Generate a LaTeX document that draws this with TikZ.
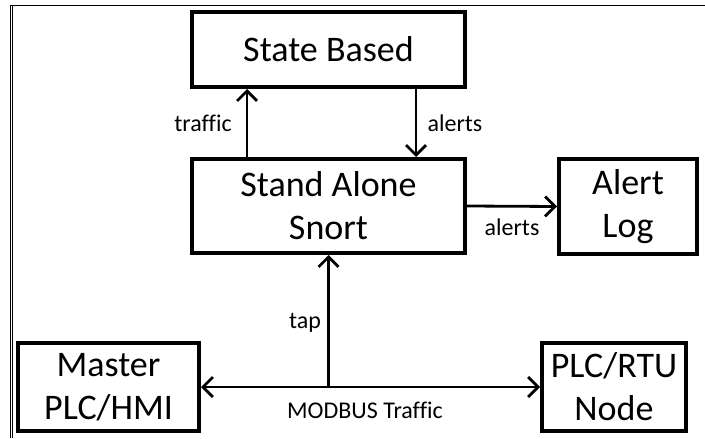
\documentclass[tikz,border=0pt]{standalone}
\usepackage{fontspec}
\setmainfont{Carlito}[Ligatures=NoCommon]
\usetikzlibrary{arrows.meta}
\begin{document}
\begin{tikzpicture}[x=0.5pt,y=-0.5pt,
  box/.style={draw=black,line width=2pt,rectangle,align=center,inner sep=0pt,
    font=\fontsize{18}{21.6}\selectfont},
  conn/.style={line width=1.4pt,-{Straight Barb[length=5pt,width=10pt,line width=1.4pt]}},
  biconn/.style={line width=1.4pt,{Straight Barb[length=5pt,width=10pt,line width=1.4pt]}-{Straight Barb[length=5pt,width=10pt,line width=1.4pt]}},
  lbl/.style={font=\fontsize{12}{14}\selectfont,inner sep=0pt},
  frame/.style={line width=0.5pt}]
\useasboundingbox (0,0) rectangle (705,438);
\draw[frame] (705,6) -- (10,6) -- (10,438);
\draw[frame] (12.5,6) -- (12.5,438);
\node[box,minimum width=136.5pt,minimum height=37.5pt] (sb) at (328.5,49.5) {State Based};
\node[box,minimum width=136.5pt,minimum height=47pt] (sa) at (328.5,206) {Stand Alone\\Snort};
\node[box,minimum width=69pt,minimum height=47.5pt] (al) at (628,206.5) {Alert\\Log};
\node[box,minimum width=90.5pt,minimum height=44pt] (ms) at (108.5,387) {Master\\PLC/HMI};
\node[box,minimum width=72pt,minimum height=44pt] (pl) at (614,387) {PLC/RTU\\Node};
\coordinate (tx) at (247,0);
\coordinate (ax) at (416,0);
\coordinate (j) at (sa.south |- ms.east);
\draw[conn] (sa.north -| tx) -- (sb.south -| tx);
\draw[conn] (sb.south -| ax) -- (sa.north -| ax);
\draw[conn] (sa.east) -- (al.west);
\draw[biconn] (ms.east) -- (pl.west);
\draw[conn] (j) -- (sa.south);
\node[lbl] (l1) at (203,123) {traffic};
\node[lbl] (l2) at (455,123) {alerts};
\node[lbl] (l3) at (512,227) {alerts};
\node[lbl] (l4) at (305,323) {tap};
\node[lbl] (l5) at (365,410) {MODBUS Traffic};
\end{tikzpicture}
\end{document}
